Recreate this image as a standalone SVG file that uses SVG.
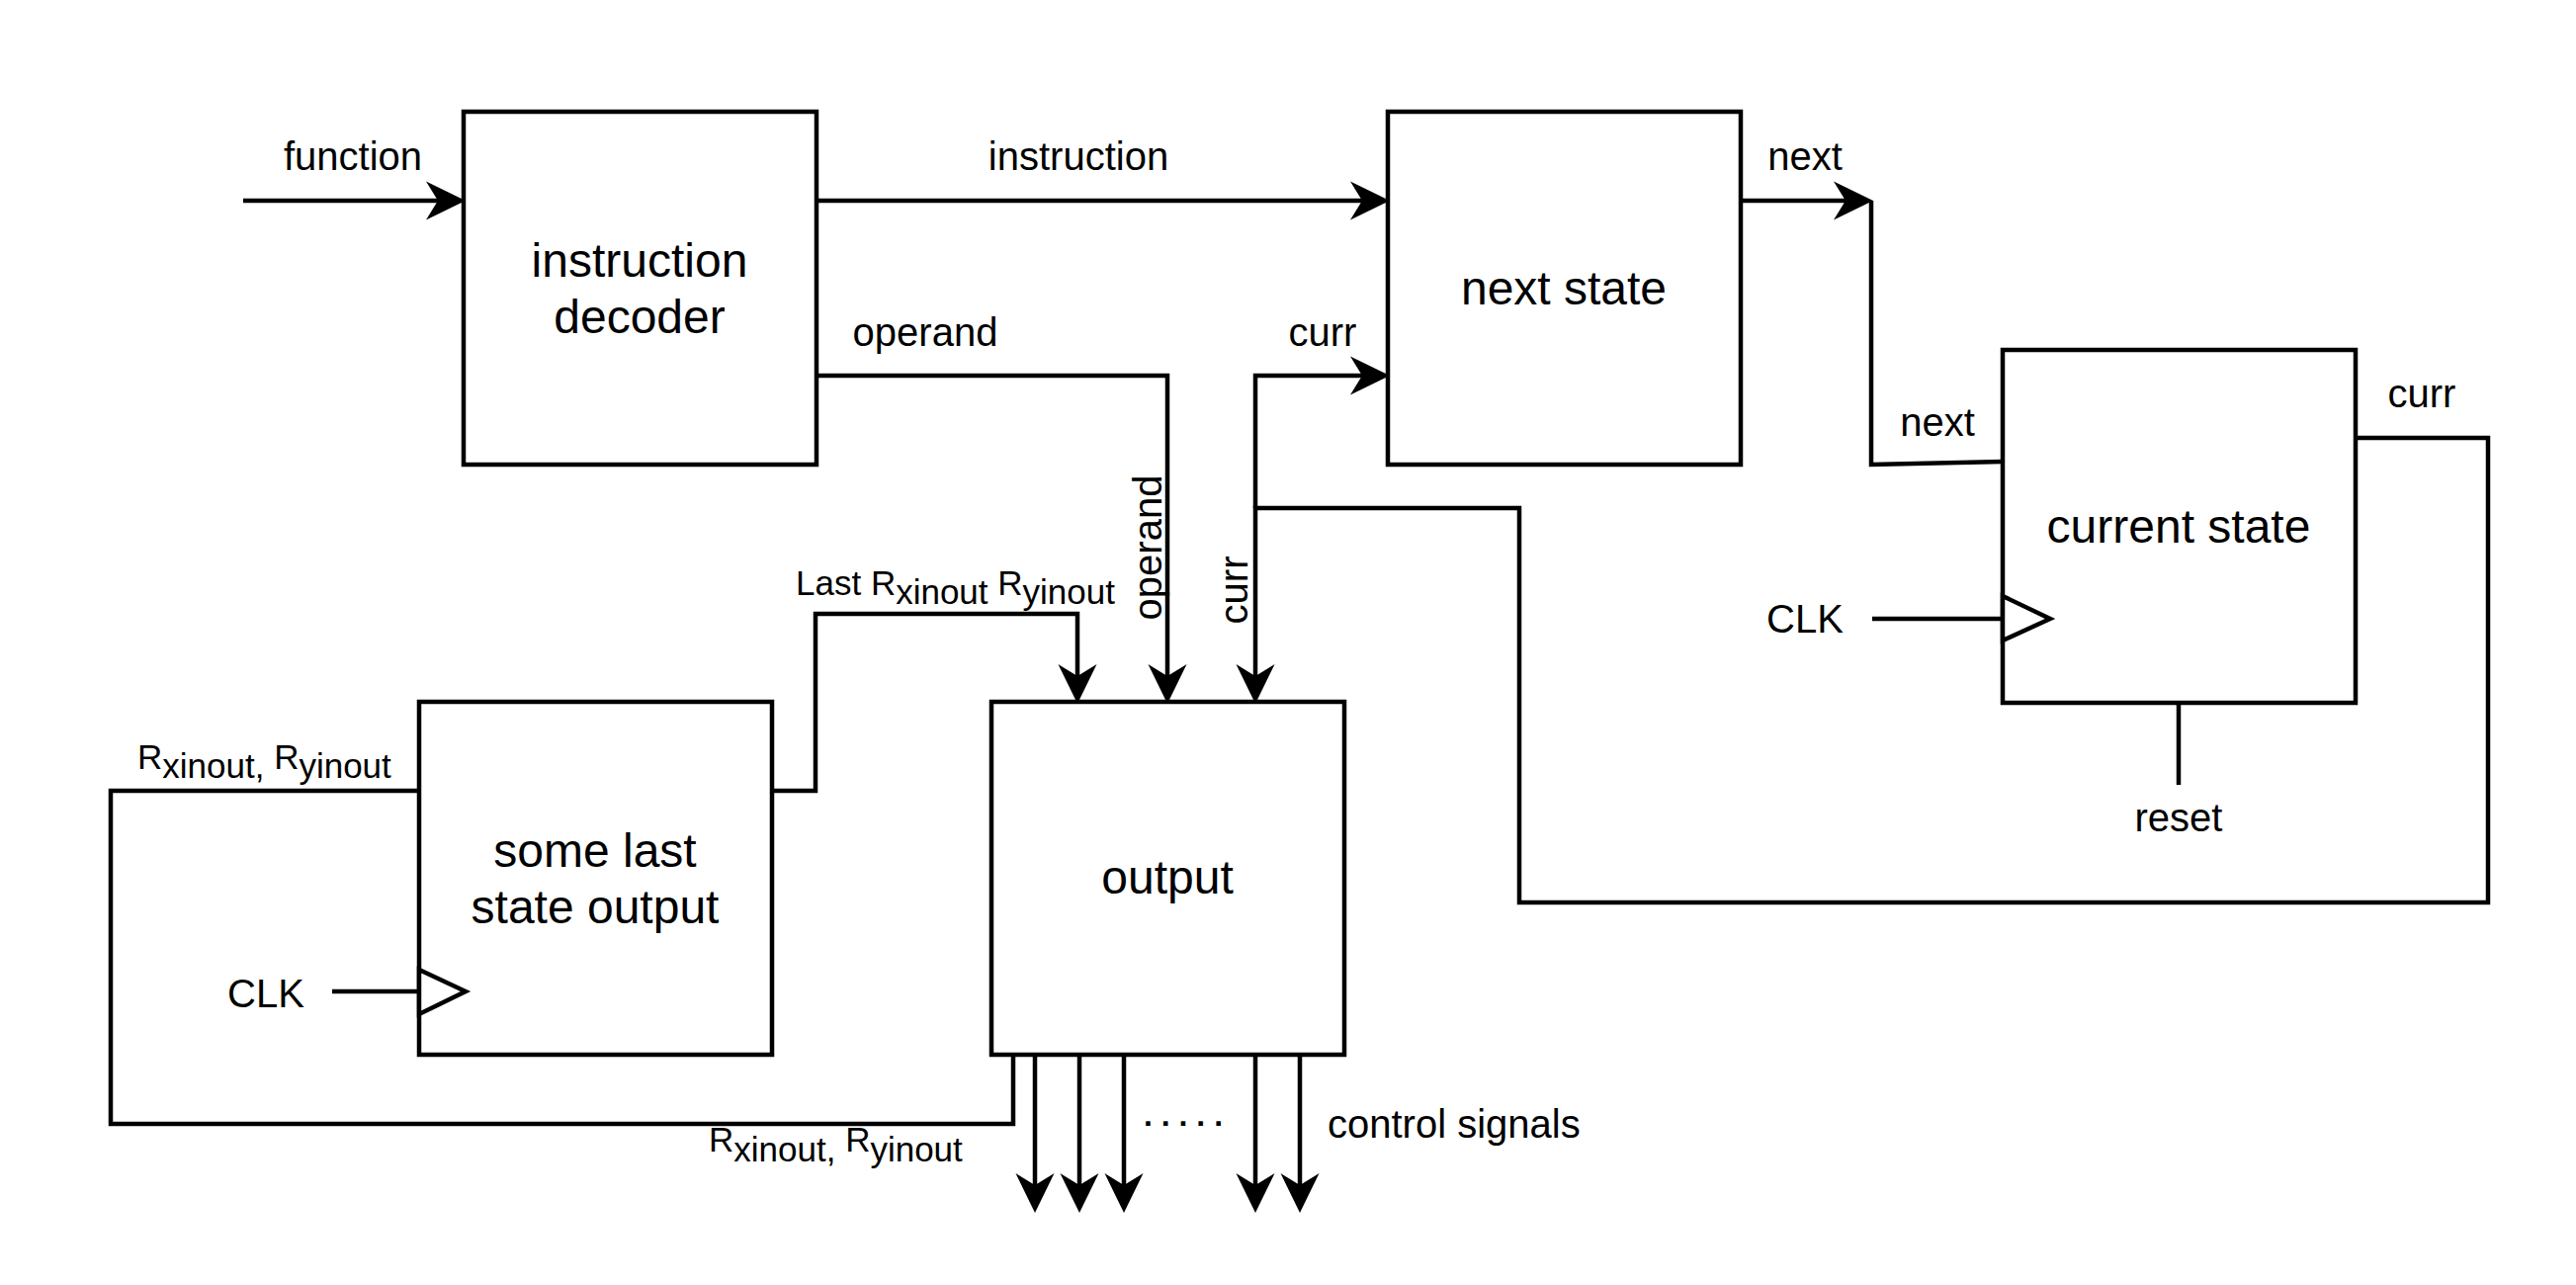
<svg xmlns="http://www.w3.org/2000/svg" width="2606" height="1300" viewBox="0 0 2606 1300">
<style>
.box{fill:#fff;stroke:#000;stroke-width:4.5}
.w{fill:none;stroke:#000;stroke-width:4.5;stroke-linejoin:miter}
.a{fill:none;stroke:#000;stroke-width:4.5;marker-end:url(#arr)}
.clk{fill:#fff;stroke:#000;stroke-width:4.5}
text{font-family:"Liberation Sans",Arial,Helvetica,sans-serif;fill:#000}
.bl{font-size:48px;text-anchor:middle}
.el{font-size:40px}
.c{text-anchor:middle}
.sl{font-size:35px}
</style>
<defs>
<marker id="arr" viewBox="0 0 40 40" refX="12" refY="20" markerWidth="40" markerHeight="40" markerUnits="userSpaceOnUse" orient="auto">
<path d="M0,0.5 L40,20 L0,39.5 L12,20 Z" fill="#000"/>
</marker>
</defs>
<rect width="2606" height="1300" fill="#fff"/>

<g id="connectors">
<path class="a" d="M246,203 H443"/>
<path class="a" d="M826,203 H1378"/>
<path class="a" d="M1761,203 H1867"/>
<path class="w" d="M1893,203 V470 L2026,467"/>
<path class="a" d="M826,380 H1181 V684"/>
<path class="a" d="M2384,443 H2517 V913 H1537 V514 H1270 V684"/>
<path class="a" d="M1270,514 V380 H1378"/>
<path class="a" d="M781,800 H825 V621 H1090 V684"/>
<path class="w" d="M1025,1066 V1137 H112 V800 H424"/>
<path class="a" d="M1047,1066 V1199"/>
<path class="a" d="M1092,1066 V1199"/>
<path class="a" d="M1137,1066 V1199"/>
<path class="a" d="M1270,1066 V1199"/>
<path class="a" d="M1315,1066 V1199"/>
<path class="w" d="M1894,626 H2026"/>
<path class="w" d="M336,1003 H424"/>
<path class="w" d="M2204,711 V794"/>

<text class="el c" x="357" y="172">function</text>
<text class="el c" x="1091" y="172">instruction</text>
<text class="el c" x="1826" y="172">next</text>
<text class="el c" x="936" y="350">operand</text>
<text class="el c" x="1338" y="350">curr</text>
<text class="el c" x="1960" y="441">next</text>
<text class="el c" x="2450" y="412">curr</text>
<text class="el c" transform="translate(1175,554) rotate(-90)">operand</text>
<text class="el c" transform="translate(1262,597) rotate(-90)">curr</text>
<text class="el c" x="1826" y="640">CLK</text>
<text class="el c" x="269" y="1019">CLK</text>
<text class="el c" x="2204" y="841">reset</text>
<text class="el" x="1343" y="1151">control signals</text>
<text style="font-size:32px;font-weight:bold" x="1157" y="1139">. . . . .</text>
<text class="sl" x="139" y="778">R<tspan dy="9">xinout,</tspan><tspan dy="-9"> R</tspan><tspan dy="9">yinout</tspan></text>
<text class="sl" x="805" y="602">Last R<tspan dy="9">xinout</tspan><tspan dy="-9"> R</tspan><tspan dy="9">yinout</tspan></text>
<text class="sl" x="717" y="1165">R<tspan dy="10">xinout,</tspan><tspan dy="-10"> R</tspan><tspan dy="10">yinout</tspan></text>
</g>

<g id="instruction-decoder">
<rect class="box" x="469" y="113" width="357" height="357"/>
<text class="bl" x="647" y="280">instruction</text>
<text class="bl" x="647" y="337">decoder</text>
</g>

<g id="next-state">
<rect class="box" x="1404" y="113" width="357" height="357"/>
<text class="bl" x="1582" y="308">next state</text>
</g>

<g id="current-state">
<rect class="box" x="2026" y="354" width="357" height="357"/>
<text class="bl" x="2204" y="549">current state</text>
<polygon class="clk" points="2026,603 2074,626 2026,648"/>
</g>

<g id="some-last-state-output">
<rect class="box" x="424" y="710" width="357" height="357"/>
<text class="bl" x="602" y="877">some last</text>
<text class="bl" x="602" y="934">state output</text>
<polygon class="clk" points="424,981 471,1003 424,1026"/>
</g>

<g id="output">
<rect class="box" x="1003" y="710" width="357" height="357"/>
<text class="bl" x="1181" y="904">output</text>
</g>
</svg>
